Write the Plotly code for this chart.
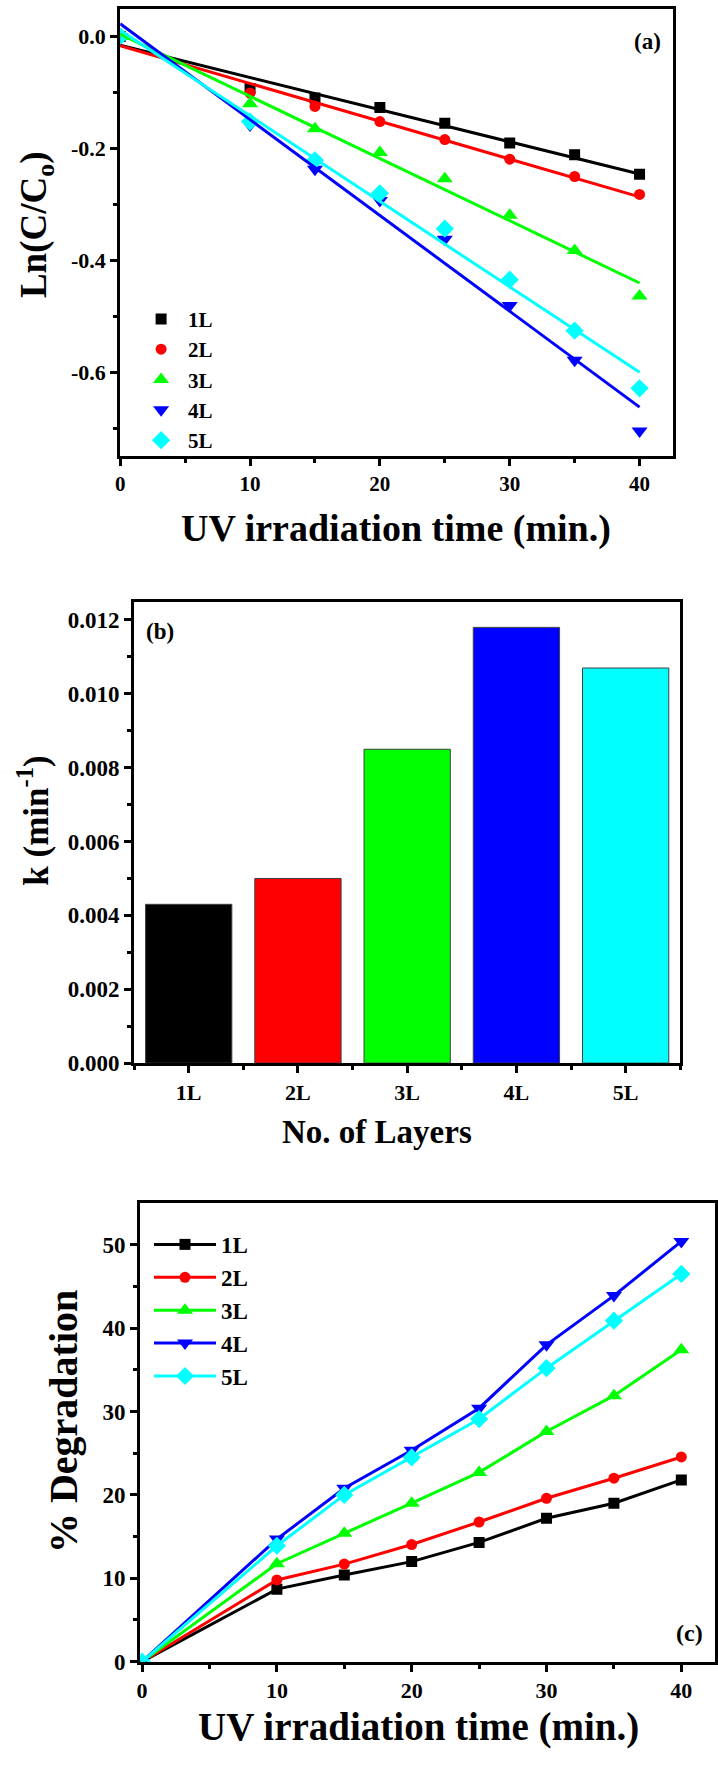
import numpy as np
import plotly.graph_objects as go

W, H = 718, 1765

# ---- data -------------------------------------------------------------
layers = ["1L", "2L", "3L", "4L", "5L"]
colors = ["#000000", "#FF0000", "#00FF00", "#0000FF", "#00FFFF"]
symbols = ["square", "circle", "triangle-up", "triangle-down", "diamond"]

time_min = [0, 10, 15, 20, 25, 30, 35, 40]

# ln(C/C0) vs time
ln_1L = [0.0, -0.093, -0.110, -0.127, -0.155, -0.190, -0.211, -0.246]
ln_2L = [0.0, -0.101, -0.125, -0.152, -0.184, -0.219, -0.250, -0.282]
ln_3L = [0.0, -0.120, -0.165, -0.207, -0.254, -0.319, -0.382, -0.463]
ln_4L = [0.0, -0.158, -0.237, -0.293, -0.362, -0.480, -0.578, -0.704]
ln_5L = [0.0, -0.152, -0.221, -0.280, -0.343, -0.434, -0.525, -0.628]

# rate constants k (min^-1)
k_values = [0.0043, 0.0050, 0.0085, 0.0118, 0.0107]

# % degradation vs time
deg_1L = [0, 8.7, 10.4, 12.0, 14.3, 17.2, 19.0, 21.8]
deg_2L = [0, 9.8, 11.7, 14.05, 16.75, 19.6, 22.0, 24.55]
deg_3L = [0, 11.75, 15.4, 19.0, 22.7, 27.6, 31.9, 37.4]
deg_4L = [0, 14.7, 20.8, 25.35, 30.4, 38.0, 43.9, 50.4]
deg_5L = [0, 13.9, 20.0, 24.5, 29.1, 35.2, 40.9, 46.5]

ln_ticks = [0.0, -0.2, -0.4, -0.6]
ln_ticktext = ["0.0", "-0.2", "-0.4", "-0.6"]

ln_series = [ln_1L, ln_2L, ln_3L, ln_4L, ln_5L]
deg_series = [deg_1L, deg_2L, deg_3L, deg_4L, deg_5L]

# ---- helpers -----------------------------------------------------------
FONT = "Liberation Serif"


def fx(p):
    return p / W


def fy(p):
    return 1 - p / H


def bold(size):
    return dict(family=FONT, size=size, color="black", weight="bold")


def msize(sym):
    return 11 if sym in ("square", "circle") else 14


fig = go.Figure()

# panel (a): data points + linear fits
for name, ys, c, s in zip(layers, ln_series, colors, symbols):
    fig.add_trace(go.Scatter(
        x=time_min, y=ys, mode="markers", name=name,
        marker=dict(symbol=s, color=c, size=msize(s), line=dict(width=0)),
        xaxis="x", yaxis="y", legend="legend"))
for name, ys, c in zip(layers, ln_series, colors):
    slope, icpt = np.polyfit(time_min, ys, 1)
    xs = np.array([time_min[0], time_min[-1]], dtype=float)
    fig.add_trace(go.Scatter(
        x=xs, y=slope * xs + icpt, mode="lines", showlegend=False,
        line=dict(color=c, width=3), xaxis="x", yaxis="y"))

# panel (b): rate constants
fig.add_trace(go.Bar(
    x=list(range(len(layers))), y=k_values, width=0.79,
    marker=dict(color=colors, line=dict(color="#404040", width=1)),
    showlegend=False, xaxis="x2", yaxis="y2"))

# panel (c): % degradation
for name, ys, c, s in zip(layers, deg_series, colors, symbols):
    fig.add_trace(go.Scatter(
        x=time_min, y=ys, mode="lines+markers", name=name,
        line=dict(color=c, width=3),
        marker=dict(symbol=s, color=c, size=msize(s)),
        xaxis="x3", yaxis="y3", legend="legend2"))

axis_common = dict(showline=True, linewidth=3, linecolor="black", mirror=True,
                   showgrid=False, zeroline=False, ticks="outside", ticklen=7,
                   tickwidth=3, tickcolor="black")
minor_common = dict(ticks="outside", ticklen=4, tickwidth=3, tickcolor="black",
                    showgrid=False)

fig.update_layout(
    width=W, height=H, margin=dict(l=0, r=0, t=0, b=0),
    paper_bgcolor="white", plot_bgcolor="white",
    # (a)
    xaxis=dict(axis_common, domain=[fx(116), fx(673)], range=[0, 42.6],
               tickvals=[0, 10, 20, 30, 40], tickfont=bold(21),
               minor=dict(minor_common, tickvals=[5, 15, 25, 35]),
               anchor="y"),
    yaxis=dict(axis_common, domain=[fy(459), fy(9)], range=[-0.748, 0.049],
               tickvals=ln_ticks, ticktext=ln_ticktext, tickfont=bold(22),
               minor=dict(minor_common, tickvals=[-0.1, -0.3, -0.5, -0.7]),
               anchor="x"),
    # (b)
    xaxis2=dict(axis_common, domain=[fx(130), fx(680)], range=[-0.5, 4.5],
                tickvals=list(range(len(layers))), ticktext=layers,
                tickfont=bold(22),
                minor=dict(minor_common, tickvals=[-0.5, 0.5, 1.5, 2.5, 3.5, 4.5]),
                anchor="y2"),
    yaxis2=dict(axis_common, domain=[fy(1071), fy(606)], range=[0, 0.0125],
                tickvals=[0, 0.002, 0.004, 0.006, 0.008, 0.010, 0.012],
                tickformat=".3f", tickfont=bold(23),
                minor=dict(minor_common, tickvals=[0.001, 0.003, 0.005, 0.007,
                                                   0.009, 0.011]),
                anchor="x2"),
    # (c)
    xaxis3=dict(axis_common, domain=[fx(136), fx(715)], range=[-0.15, 42.5],
                tickvals=[0, 10, 20, 30, 40], tickfont=bold(22),
                minor=dict(minor_common, tickvals=[5, 15, 25, 35]),
                anchor="y3"),
    yaxis3=dict(axis_common, domain=[fy(1674), fy(1212)], range=[0, 55],
                tickvals=[0, 10, 20, 30, 40, 50], tickfont=bold(23),
                minor=dict(minor_common, tickvals=[5, 15, 25, 35, 45]),
                anchor="x3"),
    legend=dict(x=fx(130), y=fy(301), xanchor="left", yanchor="top",
                bgcolor="rgba(0,0,0,0)", borderwidth=0, font=bold(21),
                itemwidth=44, tracegroupgap=0),
    legend2=dict(x=fx(145), y=fy(1232), xanchor="left", yanchor="top",
                 bgcolor="rgba(0,0,0,0)", borderwidth=0, font=bold(23),
                 itemwidth=62, tracegroupgap=0),
    showlegend=True,
)

annotations = [
    # panel tags
    dict(text="(a)", x=fx(647), y=fy(42), font=bold(23)),
    dict(text="(b)", x=fx(156), y=fy(636), font=bold(23)),
    dict(text="(c)", x=fx(689), y=fy(1645), font=bold(24)),
    # axis titles
    dict(text="UV irradiation time (min.)", x=fx(394), y=fy(532), font=bold(38)),
    dict(text="Ln(C/C<sub>o</sub>)", x=fx(32), y=fy(226), font=bold(37),
         textangle=-90),
    dict(text="No. of Layers", x=fx(375), y=fy(1140), font=bold(33)),
    dict(text="k (min<sup>-1</sup>)", x=fx(29), y=fy(827), font=bold(35),
         textangle=-90),
    dict(text="UV irradiation time (min.)", x=fx(416), y=fy(1740), font=bold(39)),
    dict(text="% Degradation", x=fx(59), y=fy(1432), font=bold(40),
         textangle=-90),
]
for a in annotations:
    a.update(xref="paper", yref="paper", xanchor="center", yanchor="middle",
             showarrow=False)
fig.update_layout(annotations=annotations)

fig.write_html("out.html")
